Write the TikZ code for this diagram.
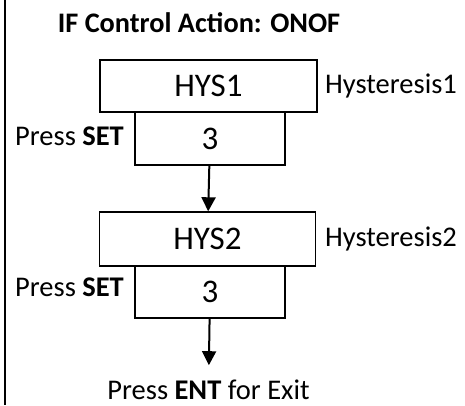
\documentclass[tikz,border=0pt]{standalone}
\usepackage{fontspec}
\setmainfont{Carlito}
\usetikzlibrary{arrows.meta,positioning}

\tikzset{
  dispbox/.style={draw,line width=1.4pt,inner sep=0pt,
    font=\fontsize{33}{33}\selectfont},
  lbl/.style={inner sep=0pt,font=\fontsize{28.5}{32}\selectfont},
  flow/.style={line width=2pt,-{Triangle[width=14pt,length=14pt]}}
}

\begin{document}
\begin{tikzpicture}[x=1pt,y=-1pt]
  \useasboundingbox (0,0) rectangle (465,405);
  \draw[line width=2pt] (5,0) -- (5,405);
  \node[lbl,anchor=base,font=\fontsize{28.3}{32}\selectfont\bfseries] (title) at (199,32) {IF Control Action: ONOF};
  % first parameter
  \node[dispbox,minimum width=217pt,minimum height=52pt] (hys1) at (208.5,86) {HYS1};
  \node[dispbox,minimum width=150pt,minimum height=53pt] (val1) at (210,138.5) {3};
  \node[lbl,anchor=base west] (hname1) at (325,93) {Hysteresis1};
  \node[lbl,anchor=base east] (set1) at (124,145) {Press \textbf{SET}};
  % second parameter
  \node[dispbox,minimum width=216pt,minimum height=54pt] (hys2) at (207.5,239) {HYS2};
  \node[dispbox,minimum width=150pt,minimum height=52pt] (val2) at (210,292) {3};
  \node[lbl,anchor=base west] (hname2) at (325,246) {Hysteresis2};
  \node[lbl,anchor=base east] (set2) at (124,296) {Press \textbf{SET}};
  \node[lbl,anchor=base] (exit) at (208.5,399) {Press \textbf{ENT} for Exit};
  \draw[flow] (val1) -- (hys2);
  \draw[flow,shorten >=14pt] (val2) -- (exit);
\end{tikzpicture}
\end{document}
